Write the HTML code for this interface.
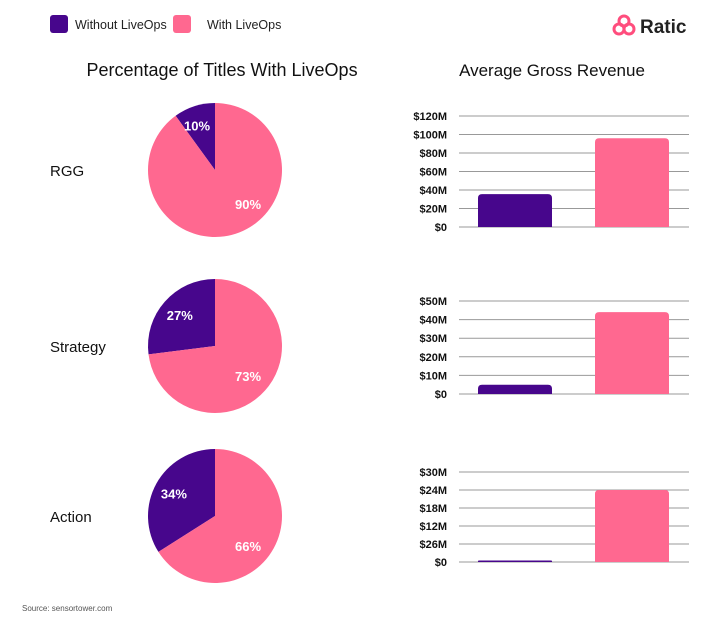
<!DOCTYPE html>
<html><head><meta charset="utf-8"><style>
body{margin:0;background:#fff;width:728px;height:632px;overflow:hidden;font-family:"Liberation Sans",sans-serif}
svg text{font-family:"Liberation Sans",sans-serif}
</style></head><body>
<svg id="c" width="728" height="632" xmlns="http://www.w3.org/2000/svg">
<g>
<rect x="50" y="15" width="18" height="18" rx="3" fill="#47068c"/>
<text x="75" y="29" font-size="12.5" fill="#222">Without LiveOps</text>
<rect x="173" y="15" width="18" height="18" rx="3" fill="#ff6890"/>
<text x="207" y="29" font-size="12.5" fill="#222">With LiveOps</text>
</g>
<g>
<circle cx="624" cy="21" r="5" fill="none" stroke="#ff4d7d" stroke-width="3"/>
<circle cx="619" cy="29" r="5" fill="none" stroke="#ff4d7d" stroke-width="3"/>
<circle cx="629" cy="29" r="5" fill="none" stroke="#ff4d7d" stroke-width="3"/>
<text x="640" y="33" font-size="19" font-weight="bold" fill="#222">Ratic</text>
</g>
<text x="222" y="76" font-size="18" text-anchor="middle" fill="#111">Percentage of Titles With LiveOps</text>
<text x="552" y="76" font-size="17" text-anchor="middle" fill="#111">Average Gross Revenue</text>
<text x="22" y="611" font-size="8" fill="#555">Source: sensortower.com</text>
<g id="g"></g>
</svg>
<script>
const categories=["RGG","Strategy","Action"];
const withoutPct=[10,27,34];
const withPct=[90,73,66];
const revWithout=[35.6,5,0.5];
const revWith=[96,44,24];
const tickLabels=[["$0","$20M","$40M","$60M","$80M","$100M","$120M"],["$0","$10M","$20M","$30M","$40M","$50M"],["$0","$26M","$12M","$18M","$24M","$30M"]];
const axisMax=[120,50,30];
const NS="http://www.w3.org/2000/svg",g=document.getElementById('g');
function mk(t,a){const e=document.createElementNS(NS,t);for(const k in a)e.setAttribute(k,a[k]);g.appendChild(e);return e;}
const pieCy=[170,346,516],top0=[[116,227],[301,394],[472,562]];
const P="#47068c",K="#ff6890",R=67,cx=215;
categories.forEach((c,i)=>{
 const cy=pieCy[i];
 let t=mk('text',{x:50,y:cy+6,'font-size':15,fill:'#111'});t.textContent=c;
 
 
 const tot=withoutPct[i]+withPct[i],a=withoutPct[i]/tot*2*Math.PI;
 const pt=ang=>[cx-R*Math.sin(ang),cy-R*Math.cos(ang)];
 const [x1,y1]=pt(a);
 let s=mk('path',{d:`M${cx},${cy}L${cx},${cy-R}A${R},${R} 0 ${a>Math.PI?1:0} 0 ${x1},${y1}Z`,fill:P});
 
 
 s=mk('path',{d:`M${cx},${cy}L${x1},${y1}A${R},${R} 0 ${a<Math.PI?1:0} 0 ${cx},${cy-R}Z`,fill:K});
 
 
 const lp=(ang,r)=>[cx-r*Math.sin(ang),cy-r*Math.cos(ang)];
 let [lx,ly]=lp(a/2,R*0.7);
 if(i==0){lx=197;}
 t=mk('text',{x:lx,y:ly+5,'font-size':13,'font-weight':'bold',fill:'#fff','text-anchor':'middle'});t.textContent=withoutPct[i]+'%';
 
 
 if(i==0){lx=248;ly=204;} else {lx=248;ly=cy+30;}
 t=mk('text',{x:lx,y:ly+5,'font-size':13,'font-weight':'bold',fill:'#fff','text-anchor':'middle'});t.textContent=withPct[i]+'%';
 
 
 const [yt,y0]=top0[i],ys=v=>y0-(y0-yt)*v/axisMax[i];
 const n=tickLabels[i].length;
 tickLabels[i].forEach((lb,k)=>{
  const v=axisMax[i]*k/(n-1),y=ys(v);
  let l=mk('line',{x1:459,x2:689,y1:y,y2:y,stroke:'#999','stroke-width':1});
  
  
  let tt=mk('text',{x:447,y:y+4,'font-size':11,'font-weight':'bold',fill:'#111','text-anchor':'end'});tt.textContent=lb;
  
  
 });
 [[revWithout[i],478,P,'without'],[revWith[i],595,K,'with']].forEach(([v,x,f,nm])=>{
  const y=ys(v),h=y0-y,r=Math.min(4,h/2);
  let b=mk('path',{d:`M${x},${y0}V${y+r}Q${x},${y} ${x+r},${y}H${x+74-r}Q${x+74},${y} ${x+74},${y+r}V${y0}Z`,fill:f});
  
  
 });
});
</script>
</body></html>
